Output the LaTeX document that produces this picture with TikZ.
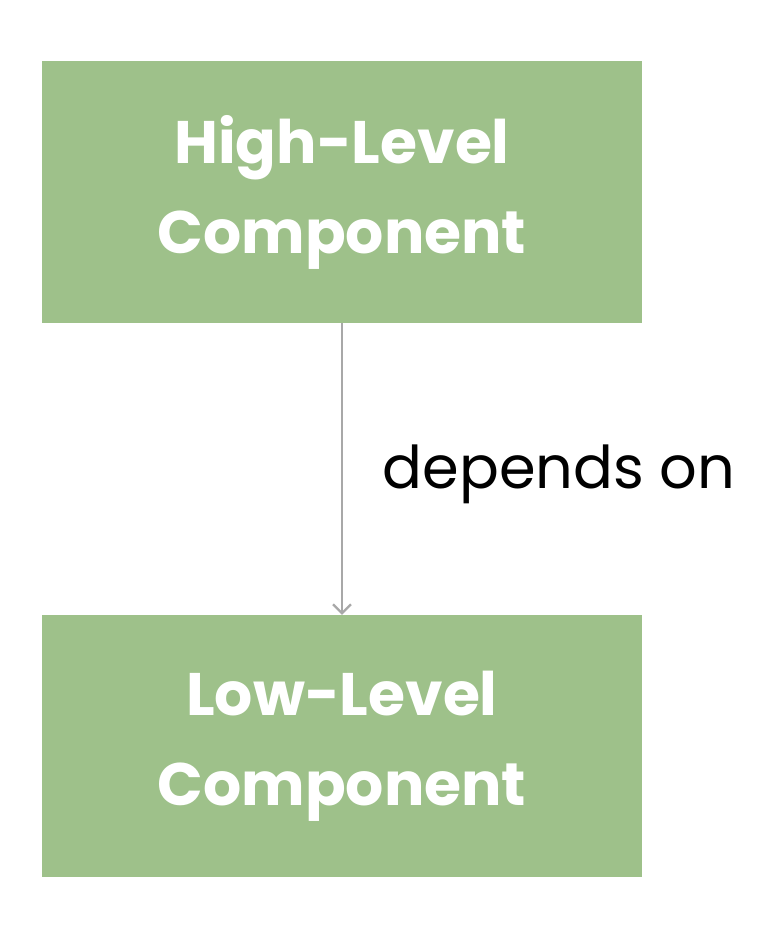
\documentclass[tikz,border=0pt]{standalone}
\usepackage{fontspec}
\setmainfont{Poppins}
\usetikzlibrary{positioning, arrows.meta}
\definecolor{boxgreen}{HTML}{9EC18A}
\definecolor{arrowgray}{HTML}{A8A8A8}

\begin{document}
\begin{tikzpicture}[x=1pt, y=-1pt]
\tikzset{comp/.style={draw=none, rectangle, minimum width=600pt, minimum height=262pt, fill=boxgreen, text=white, align=center, inner sep=0pt, font=\fontsize{60}{90}\selectfont\bfseries}}
\useasboundingbox[fill=white] (0,0) rectangle (766,930);
\node[comp] (High) at (342,192) {High-Level\\Component};
\node[comp] (Low) at (342,746) {Low-Level\\Component};
\node[font=\fontsize{59}{70}\selectfont, inner sep=0pt] (Dep) at (559,474) {depends on};
\draw[arrowgray, line width=2.2pt, -{Straight Barb[length=9pt, width=18pt]}] (High) -- (Low);
\end{tikzpicture}
\end{document}
